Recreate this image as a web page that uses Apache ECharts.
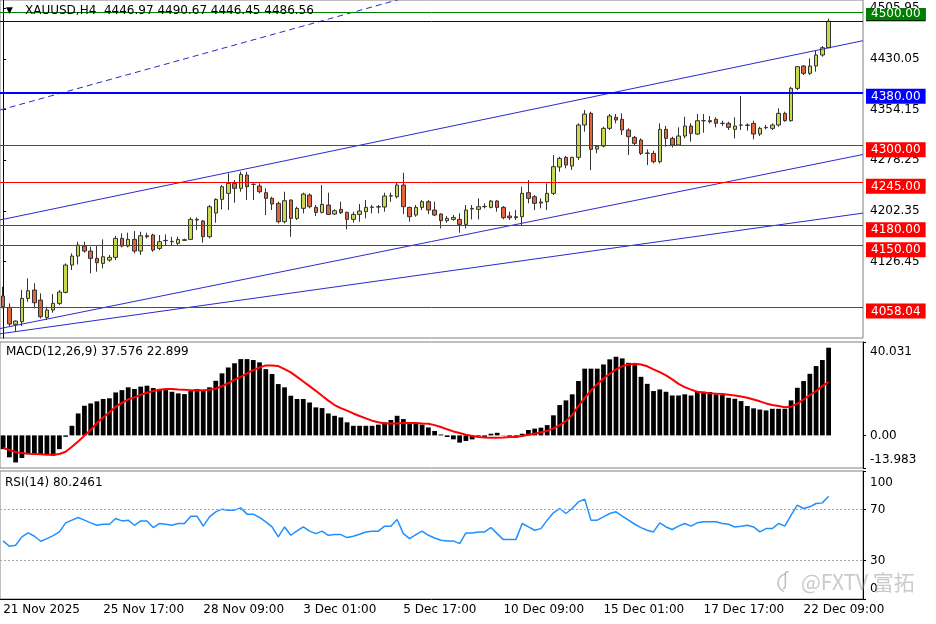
<!DOCTYPE html>
<html>
<head>
<meta charset="utf-8">
<script src="https://cdn.jsdelivr.net/npm/echarts@6/dist/echarts.min.js"></script>
<style>
  html, body { margin: 0; padding: 0; background: #fff; }
  #chart { width: 936px; height: 624px; }
</style>
</head>
<body>
<div id="chart"></div>
<script>
// XAUUSD H4, 21 Nov 2025 .. 22 Dec 2025 (133 bars), rows are [open, high, low, close]
const candles = [
  [4074.5, 4088.5, 4056, 4058.5], [4057.5, 4063.5, 4029.5, 4032.5], [4032, 4038, 4021, 4037], [4036, 4083.5, 4029.5, 4071],
  [4071, 4101, 4066, 4082.5], [4083.5, 4093.5, 4056, 4064.5], [4068.5, 4078.5, 4041, 4043.5], [4042.5, 4058.5, 4038.5, 4053.5],
  [4053.5, 4077.5, 4049.5, 4063.5], [4063.5, 4083.5, 4061, 4080.5], [4080, 4123.5, 4078.5, 4121], [4121, 4138.5, 4113.5, 4134.5],
  [4134.5, 4156, 4122, 4151], [4149.5, 4156, 4139.5, 4142], [4142, 4148.5, 4108.5, 4131], [4131, 4149.5, 4111, 4124.5],
  [4123.5, 4159.5, 4116, 4133.5], [4128.5, 4136, 4126, 4132.5], [4132.5, 4164.5, 4128.5, 4161], [4161, 4168.5, 4147.5, 4149.5],
  [4149.5, 4169.5, 4147.5, 4159.5], [4159.5, 4172, 4138.5, 4142], [4142, 4171, 4136, 4165], [4165, 4169.5, 4161, 4163.5],
  [4166, 4168, 4141, 4143.5], [4146, 4166, 4143.5, 4156], [4158, 4167, 4149.5, 4157.5], [4156, 4163.5, 4149.5, 4156.5],
  [4153.5, 4163.5, 4151, 4159.5], [4158, 4160.5, 4157.5, 4159], [4159.5, 4192.5, 4158.5, 4189.5], [4189.5, 4192.5, 4173.5, 4188.5],
  [4187, 4188.5, 4154.5, 4163.5], [4163.5, 4211, 4161, 4208.5], [4199, 4221, 4184.5, 4219.5], [4219.5, 4241, 4204.5, 4238.5],
  [4228.5, 4258.5, 4203.5, 4243.5], [4243.5, 4248.5, 4214.5, 4236], [4236, 4261, 4231, 4257], [4256, 4261, 4218.5, 4238.5],
  [4242, 4243.5, 4218.5, 4242], [4239.5, 4243.5, 4228.5, 4231], [4229.5, 4236, 4196, 4221], [4221, 4223.5, 4203.5, 4212.5],
  [4213.5, 4216, 4183.5, 4186], [4186, 4231, 4183.5, 4217.5], [4218.5, 4219.5, 4163.5, 4191], [4191, 4208.5, 4188.5, 4206],
  [4206, 4229.5, 4198.5, 4227.5], [4226, 4228.5, 4206, 4208.5], [4207.5, 4211, 4194.5, 4200], [4200, 4241, 4198.5, 4212],
  [4211, 4229.5, 4196, 4197], [4197.5, 4204.5, 4196, 4202.5], [4204.5, 4216, 4197.5, 4199.5], [4200, 4201, 4174.5, 4189.5],
  [4189.5, 4201, 4184.5, 4197], [4197, 4212.5, 4186, 4202], [4201, 4218.5, 4191, 4207.5], [4207.5, 4211, 4198.5, 4208],
  [4208, 4211, 4198.5, 4208.5], [4208, 4229.5, 4201, 4224.5], [4224.5, 4229.5, 4216, 4225], [4223.5, 4244.5, 4221, 4241],
  [4241, 4259.5, 4197.5, 4208.5], [4207.5, 4208.5, 4186, 4193.5], [4196, 4211, 4193.5, 4207.5], [4207.5, 4218.5, 4203.5, 4216],
  [4216, 4218.5, 4197.5, 4203.5], [4203.5, 4216, 4194.5, 4196], [4197.5, 4198.5, 4176, 4187.5], [4187.5, 4194.5, 4184.5, 4191],
  [4189.5, 4196, 4187.5, 4192.5], [4189.5, 4198.5, 4169.5, 4182], [4182, 4211, 4176, 4203.5], [4205, 4211, 4189.5, 4206],
  [4204.5, 4221, 4189.5, 4208.5], [4208.5, 4213.5, 4206, 4209], [4207.5, 4218.5, 4206, 4217], [4217, 4218.5, 4201, 4207.5],
  [4207.5, 4209.5, 4189.5, 4192], [4194.5, 4201, 4188.5, 4192], [4193.5, 4203.5, 4188.5, 4192], [4193.5, 4238.5, 4181, 4228.5],
  [4229.5, 4248.5, 4213.5, 4221], [4223.5, 4226, 4203.5, 4213.5], [4215.5, 4221, 4206, 4214], [4216, 4243.5, 4203.5, 4228.5],
  [4228.5, 4286, 4226, 4268.5], [4268, 4283.5, 4261, 4281], [4282.5, 4284.5, 4266, 4271], [4269.5, 4283.5, 4263.5, 4282.5],
  [4282.5, 4333.5, 4278.5, 4331], [4331, 4353.5, 4321, 4347.5], [4348.5, 4351, 4263.5, 4294.5], [4295, 4301, 4288.5, 4299],
  [4299.5, 4328.5, 4297.5, 4326], [4326, 4347.5, 4323.5, 4344.5], [4342.5, 4347.5, 4333.5, 4338.5], [4339.5, 4348.5, 4316, 4323.5],
  [4323.5, 4326, 4286, 4313.5], [4312.5, 4314.5, 4301, 4303.5], [4308.5, 4311, 4286, 4288.5], [4288.5, 4294.5, 4271, 4289],
  [4288.5, 4292.5, 4273.5, 4276], [4276, 4333.5, 4273.5, 4324.5], [4324.5, 4329.5, 4298.5, 4311], [4311, 4313.5, 4297.5, 4301],
  [4301, 4327.5, 4299.5, 4314.5], [4314.5, 4343.5, 4311, 4329.5], [4329.5, 4333.5, 4306, 4318.5], [4317.5, 4347.5, 4316, 4337.5],
  [4337.5, 4347.5, 4319.5, 4337.5], [4337.5, 4344.5, 4333.5, 4336], [4339.5, 4342.5, 4327.5, 4333.5], [4333.5, 4337.5, 4329.5, 4333.5],
  [4333.5, 4336, 4323.5, 4327.5], [4324.5, 4342.5, 4311, 4329.5], [4331, 4374.5, 4323.5, 4331], [4331, 4333.5, 4322.5, 4330.5],
  [4333.5, 4337.5, 4309.5, 4317.5], [4317.5, 4328.5, 4314.5, 4326], [4327, 4331, 4324.5, 4327.5], [4326, 4333.5, 4323.5, 4331],
  [4331, 4356, 4328.5, 4348.5], [4348.5, 4351, 4336, 4337.5], [4337.5, 4388.5, 4336, 4386], [4386, 4419.5, 4383.5, 4418.5],
  [4419.5, 4421, 4406, 4408.5], [4408.5, 4431, 4406, 4419.5], [4419.5, 4443.5, 4411, 4436], [4436, 4449.5, 4433.5, 4446.97],
  [4446.97, 4490.67, 4446.45, 4486.56]
];

const macdHist = [
  -5.9, -9.4, -11.6, -9.7, -8.0, -8.0, -8.3, -8.3, -8.7, -5.9,
  -0.6, 4.1, 9.4, 12.7, 13.7, 14.6, 15.6, 15.9, 18.4, 19.4,
  20.6, 19.9, 20.9, 21.3, 20.3, 19.9, 19.4, 18.7, 18.0, 17.7,
  19.1, 19.9, 19.1, 20.6, 23.4, 26.6, 29.1, 30.9, 32.7, 32.7,
  32.3, 31.3, 28.4, 26.3, 22.0, 20.6, 17.0, 15.6, 15.6, 14.1,
  12.0, 11.7, 9.4, 8.4, 7.7, 5.6, 4.1, 4.1, 4.1, 4.1,
  4.6, 5.6, 6.6, 8.4, 7.0, 5.1, 5.1, 4.6, 3.4, 1.9,
  0.4, -0.7, -1.7, -3.1, -2.4, -1.7, -0.4, -0.6, 0.7, 1.1,
  0.1, -0.3, -1.0, 0.7, 2.3, 2.9, 3.3, 4.4, 8.6, 13.0,
  15.0, 17.6, 23.3, 28.6, 28.6, 28.6, 30.4, 32.6, 33.7, 33.0,
  31.1, 30.1, 25.1, 22.1, 19.0, 19.7, 18.7, 17.1, 17.1, 17.6,
  17.1, 18.7, 18.7, 18.6, 17.6, 17.3, 16.1, 15.7, 14.7, 12.6,
  11.6, 11.1, 10.7, 11.4, 11.4, 11.4, 15.0, 20.4, 23.3, 26.4,
  29.7, 32.3, 37.576
];

const macdSignal = [
  -5.4, -6.3, -7.1, -7.6, -7.9, -8.0, -8.1, -8.3, -8.3, -8.0,
  -7.0, -4.9, -2.6, -0.1, 2.3, 5.4, 7.7, 9.9, 12.3, 13.9,
  15.4, 16.3, 17.4, 18.3, 19.0, 19.6, 19.9, 19.9, 19.7, 19.6,
  19.4, 19.4, 19.4, 19.6, 20.0, 21.1, 22.4, 23.9, 25.1, 26.6,
  28.0, 29.1, 30.0, 30.0, 29.7, 28.4, 27.0, 25.1, 23.1, 21.1,
  19.1, 17.0, 14.9, 13.0, 11.7, 10.6, 9.4, 8.3, 7.3, 6.3,
  5.6, 5.1, 5.1, 5.1, 5.3, 5.3, 5.3, 5.1, 5.0, 4.4,
  3.6, 2.6, 1.7, 1.0, 0.3, -0.3, -0.7, -0.9, -1.0, -1.0,
  -0.9, -0.7, -0.6, -0.3, 0.3, 0.7, 1.3, 2.0, 3.0, 4.4,
  6.1, 8.7, 12.6, 16.1, 19.3, 21.9, 24.4, 26.4, 28.3, 29.6,
  30.4, 30.7, 30.4, 29.6, 28.3, 27.1, 25.7, 24.0, 22.1, 20.7,
  19.6, 18.7, 18.4, 18.1, 17.9, 17.7, 17.4, 17.1, 16.7, 16.1,
  15.4, 14.6, 13.7, 13.0, 12.6, 12.1, 12.3, 13.6, 15.4, 17.3,
  19.0, 21.1, 22.899
];

const rsi14 = [
  45.4, 41.2, 42.0, 48.5, 51.6, 49.0, 45.1, 47.2, 49.5, 52.4,
  59.5, 61.6, 63.7, 61.6, 59.5, 57.6, 58.4, 58.4, 62.9, 61.0,
  61.6, 57.6, 61.0, 61.0, 55.8, 59.0, 58.4, 57.6, 59.0, 59.0,
  64.7, 64.7, 56.9, 64.2, 68.1, 70.2, 69.4, 69.4, 71.2, 66.3,
  66.3, 63.7, 60.3, 56.3, 48.5, 56.3, 49.8, 53.2, 56.3, 53.0,
  51.1, 53.0, 49.8, 50.3, 50.3, 48.0, 49.0, 50.6, 52.4, 53.0,
  53.0, 56.9, 56.9, 62.1, 51.1, 47.2, 50.3, 53.0, 49.8, 47.7,
  45.9, 45.4, 45.4, 43.3, 51.6, 51.6, 52.4, 52.4, 55.8, 51.1,
  46.4, 46.4, 46.4, 59.0, 56.3, 53.7, 55.0, 61.6, 67.3, 70.7,
  66.8, 70.7, 75.9, 78.0, 61.6, 61.6, 64.2, 66.8, 68.1, 64.7,
  61.6, 58.4, 55.8, 53.7, 52.4, 59.5, 56.3, 54.3, 56.9, 59.0,
  56.9, 59.5, 60.3, 60.3, 60.3, 59.0, 58.4, 56.3, 56.9, 57.6,
  56.3, 52.4, 55.0, 55.0, 59.0, 56.9, 65.5, 73.3, 70.7, 72.0,
  74.6, 75.1, 80.2461
];

// bottom time axis: one label every 16 bars
const xTickLabels = ['21 Nov 2025', '25 Nov 17:00', '28 Nov 09:00', '3 Dec 01:00', '5 Dec 17:00',
  '10 Dec 09:00', '15 Dec 01:00', '17 Dec 17:00', '22 Dec 09:00'];
const priceTicks = [4126.45, 4202.35, 4278.25, 4354.15, 4430.05, 4505.95];
const macdTicks = [-13.983, 0, 40.031];
const rsiTicks = [0, 30, 70, 100];
const rsiLevels = [70, 30];

// horizontal levels drawn on the chart
const supportResistance = [4300, 4245, 4180, 4150, 4058.04];
const blueLevel = 4380;
const greenLevel = 4500;

// trend lines as [bar index, price] end points (chart spans bar -0.5 .. 137.5)
const channelUpper = [[-0.5, 4188.6], [137.5, 4457.5]];
const channelMiddle = [[-0.5, 4025.8], [137.5, 4286.8]];
const channelLower = [[-0.5, 4017.9], [137.5, 4198.9]];
const dashedTrend = [[-0.5, 4353.5], [137.5, 4712]];

const SLOTS = 138; // 133 bars plus empty space on the right
const FONT = 'DejaVu Sans';
const cats = Array.from({ length: SLOTS }, (_, i) => String(i));
const last = candles[candles.length - 1];

const chart = echarts.init(document.getElementById('chart'));

// one series per horizontal level, so line and box both take the series colour
function levelSeries(price, color, width, boxHeight, z) {
  const pad = boxHeight === 16 ? [2, 5, 1, 5] : [0, 5, 0, 5];
  return {
    type: 'line', xAxisIndex: 0, yAxisIndex: 0, data: [], z: z, silent: true, color: color,
    markLine: {
      symbol: 'none', silent: true, animation: false,
      lineStyle: { color: color, width: width, type: 'solid', opacity: 1 },
      label: {
        show: true, position: 'end', distance: 3,
        formatter: '{g| }\n{b|' + price.toFixed(2) + '}',
        rich: {
          g: { lineHeight: boxHeight === 16 ? 8 : 4, fontSize: 1 },
          b: { backgroundColor: color, color: '#fff', fontSize: 12, fontFamily: FONT, lineHeight: boxHeight === 16 ? 13 : 12, padding: pad }
        }
      },
      data: [{ yAxis: price }]
    }
  };
}

const shiftRich = {
  t: { fontSize: 12, fontFamily: FONT, color: '#000', lineHeight: 14 },
  d20: { lineHeight: 20, fontSize: 1 },
  d24: { lineHeight: 23, fontSize: 1 },
  u16: { lineHeight: 16, fontSize: 1 },
  u20: { lineHeight: 20, fontSize: 1 }
};

function trend(points, dashed) {
  return {
    type: 'line', xAxisIndex: 3, yAxisIndex: 0, data: points, symbol: 'none', silent: true, z: 3,
    color: '#2a2ad0',
    lineStyle: { color: '#2a2ad0', width: 1, type: dashed ? [6, 4] : 'solid' }
  };
}

const axisText = { color: '#000', fontSize: 12, fontFamily: FONT };

chart.setOption({
  animation: false,
  backgroundColor: '#fff',
  textStyle: { fontFamily: FONT },
  grid: [
    { left: 0, top: 0, width: 863, height: 338, show: true, borderColor: '#808080', borderWidth: 1 },
    { left: 0, top: 342, width: 863, height: 126, show: true, borderColor: '#808080', borderWidth: 1 },
    { left: 0, top: 471, width: 863, height: 128, show: true, borderColor: '#808080', borderWidth: 1 }
  ],
  xAxis: [
    { type: 'category', gridIndex: 0, data: cats, show: false },
    { type: 'category', gridIndex: 1, data: cats, show: false },
    {
      type: 'category', gridIndex: 2, data: cats,
      axisLine: { lineStyle: { color: '#000' } },
      axisTick: { interval: 15, alignWithLabel: true, length: 4, lineStyle: { color: '#000' } },
      axisLabel: Object.assign({ interval: 15, align: 'left', margin: 5,
        formatter: (v, i) => xTickLabels[i / 16] || '' }, axisText)
    },
    { type: 'value', gridIndex: 0, min: -0.5, max: SLOTS - 0.5, show: false }
  ],
  yAxis: [
    {
      type: 'value', gridIndex: 0, position: 'right', min: 4011.6, max: 4518.5,
      splitLine: { show: false },
      axisLine: { show: true, lineStyle: { color: '#000' } },
      axisTick: { show: true, length: 3, customValues: priceTicks, lineStyle: { color: '#000' } },
      axisLabel: Object.assign({ customValues: priceTicks, margin: 7, formatter: v => v.toFixed(2) }, axisText)
    },
    {
      type: 'value', gridIndex: 1, position: 'right', min: macdTicks[0], max: macdTicks[2],
      splitLine: { show: false },
      axisLine: { show: true, lineStyle: { color: '#000' } },
      axisTick: { show: true, length: 3, customValues: macdTicks, lineStyle: { color: '#000' } },
      axisLabel: {
        customValues: macdTicks, margin: 7, rich: shiftRich,
        formatter: v => v === macdTicks[2] ? '{d20| }\n{t|' + v.toFixed(3) + '}'
          : v === macdTicks[0] ? '{t|' + v.toFixed(3) + '}\n{u16| }' : '{t|0.00}'
      }
    },
    {
      type: 'value', gridIndex: 2, position: 'right', min: 0, max: 100,
      splitLine: { show: false },
      axisLine: { show: true, lineStyle: { color: '#000' } },
      axisTick: { show: true, length: 3, customValues: rsiTicks, lineStyle: { color: '#000' } },
      axisLabel: {
        customValues: rsiTicks, margin: 7, rich: shiftRich,
        formatter: v => v === 100 ? '{d24| }\n{t|100}' : v === 0 ? '{t|0}\n{u20| }' : '{t|' + v + '}'
      }
    }
  ],
  graphic: [
    { type: 'text', left: 6, top: 6, z: 10, style: { text: '▼', fontSize: 9, fill: '#000', fontFamily: FONT } },
    { type: 'text', left: 25, top: 5, z: 10, style: {
      text: 'XAUUSD,H4  ' + last.join(' '), fontSize: 12, fill: '#000', fontFamily: FONT } },
    { type: 'text', left: 6, top: 346, z: 10, style: {
      text: 'MACD(12,26,9) ' + macdHist[macdHist.length - 1].toFixed(3) + ' ' + macdSignal[macdSignal.length - 1].toFixed(3),
      fontSize: 12, fill: '#000', fontFamily: FONT } },
    { type: 'text', left: 5, top: 477, z: 10, style: {
      text: 'RSI(14) ' + rsi14[rsi14.length - 1].toFixed(4), fontSize: 12, fill: '#000', fontFamily: FONT } },
    { type: 'arc', z: 10, shape: { cx: 787, cy: 583, r: 9, startAngle: 1.9, endAngle: 4.6 },
      style: { stroke: 'rgba(150,150,150,0.6)', lineWidth: 1.5, fill: null } },
    { type: 'text', left: 783, top: 572, z: 10, style: { text: 'ʃ', fontSize: 17, fill: 'rgba(150,150,150,0.6)', fontFamily: FONT } },
    { type: 'text', left: 801, top: 572, z: 10, style: {
      text: '@FXTV 富拓', fontSize: 21, fill: 'rgba(150,150,150,0.5)', fontFamily: 'Noto Sans CJK SC' } }
  ],
  series: [
    {
      type: 'candlestick', xAxisIndex: 0, yAxisIndex: 0, barWidth: 4, z: 2,
      data: candles.map(([o, h, l, c]) => [o, c, l, h]),
      itemStyle: { color: '#cbd94e', color0: '#e2653c', borderColor: '#333', borderColor0: '#333', borderWidth: 1 }
    },
    trend(channelUpper), trend(channelMiddle), trend(channelLower), trend(dashedTrend, true),
    {
      type: 'line', xAxisIndex: 0, yAxisIndex: 0, data: [], z: 4, silent: true, color: '#000080',
      markLine: {
        symbol: 'none', silent: true, animation: false,
        lineStyle: { color: '#000080', width: 1, type: 'solid' },
        label: {
          show: true, position: 'end', distance: 3,
          formatter: '{b|' + last[3].toFixed(2) + '}\n{g| }',
          rich: {
            g: { lineHeight: 13, fontSize: 1 },
            b: { backgroundColor: '#000', color: '#fff', fontSize: 12, fontFamily: FONT, lineHeight: 12, padding: [1, 5, 0, 5] }
          }
        },
        data: [{ yAxis: last[3] }]
      }
    },
    levelSeries(blueLevel, '#0000ff', 2, 16, 5),
    ...supportResistance.map(p => levelSeries(p, '#ff0000', 1, 16, 5)),
    levelSeries(greenLevel, '#008000', 1, 12, 6),
    {
      type: 'bar', xAxisIndex: 1, yAxisIndex: 1, data: macdHist, barWidth: '76%',
      itemStyle: { color: '#000' }, silent: true
    },
    {
      type: 'line', xAxisIndex: 1, yAxisIndex: 1, data: macdSignal, symbol: 'none', silent: true, z: 3,
      color: '#ff0000', lineStyle: { color: '#ff0000', width: 2 }
    },
    {
      type: 'line', xAxisIndex: 2, yAxisIndex: 2, data: rsi14, symbol: 'none', silent: true,
      color: '#1e90ff', lineStyle: { color: '#1e90ff', width: 1.5 },
      markLine: {
        symbol: 'none', silent: true, animation: false, label: { show: false },
        lineStyle: { color: '#a8a8a8', width: 1, type: [2, 2] },
        data: rsiLevels.map(v => ({ yAxis: v }))
      }
    }
  ]
});
</script>
</body>
</html>
